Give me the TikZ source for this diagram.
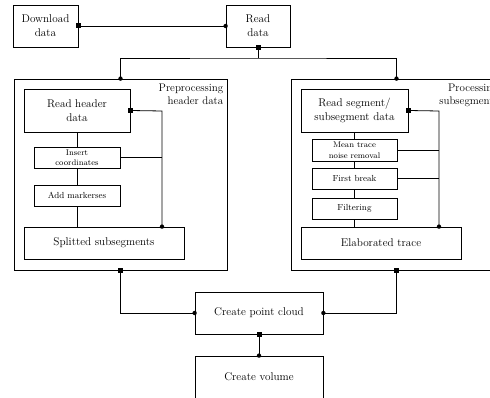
\documentclass[tikz,border=0pt]{standalone}
\usetikzlibrary{positioning}
\begin{document}
\begin{tikzpicture}[x=1pt,y=-1pt,
  every node/.style={inner sep=0pt},
  box/.style={draw,line width=0.8pt,rectangle,align=center,font=\fontsize{11.2}{14}\selectfont},
  smallbox/.style={draw,line width=0.8pt,rectangle,align=center,font=\fontsize{8.8}{11}\selectfont},
  tinybox/.style={draw,line width=0.8pt,rectangle,align=center,font=\fontsize{8.2}{10.5}\selectfont},
  group/.style={draw,line width=0.8pt,rectangle},
  grouplabel/.style={align=right,anchor=north east,font=\fontsize{11}{13}\selectfont},
  conn/.style={line width=0.8pt},
  sq/.style={fill=black,minimum size=5pt,inner sep=0pt,rectangle},
  dot/.style={fill=black,circle,minimum size=4.4pt,inner sep=0pt}
]
\clip (0,0) rectangle (490,398);
\fill[white] (0,0) rectangle (490,398);

% top
\node[box,minimum width=65pt,minimum height=42pt] (dl) at (45.5,26) {Download\\data};
\node[box,minimum width=64pt,minimum height=42pt] (rd) at (258,26) {Read\\data};

% groups
\node[group,minimum width=213pt,minimum height=191pt] (prep) at (120.5,174.5) {};
\node[grouplabel] (preplab) at (223.5,83.5) {Preprocessing\\header data};
\node[group,minimum width=211pt,minimum height=191pt] (proc) at (396.5,174.5) {};
\node[grouplabel] (proclab) at (498,83.5) {Processing\\subsegments};

% left group
\node[box,minimum width=106pt,minimum height=43pt] (rh) at (77,110.5) {Read header\\data};
\node[tinybox,minimum width=86pt,minimum height=21pt] (ic) at (77,157.5) {Insert\\coordinates};
\node[smallbox,minimum width=86pt,minimum height=21pt] (am) at (77,195.5) {Add markerses};
\node[box,minimum width=160pt,minimum height=32pt] (ss) at (104,243) {Splitted subsegments};

% right group
\node[box,minimum width=107pt,minimum height=43pt] (rs) at (354.5,110.5) {Read segment/\\subsegment data};
\node[tinybox,minimum width=85pt,minimum height=22pt] (mt) at (354.5,150) {Mean trace\\noise removal};
\node[smallbox,minimum width=85pt,minimum height=21pt] (fb) at (354.5,178.5) {First break};
\node[smallbox,minimum width=85pt,minimum height=21pt] (fi) at (354.5,208.5) {Filtering};
\node[box,minimum width=160pt,minimum height=32pt] (et) at (381,243) {Elaborated trace};

% bottom
\node[box,minimum width=128pt,minimum height=42pt] (pc) at (259,313) {Create point cloud};
\node[box,minimum width=128pt,minimum height=42pt] (cv) at (259,377) {Create volume};

% junction coordinates
\coordinate (j1) at (258,58);
\coordinate (b1) at (162,111);
\coordinate (b2) at (439,111);

% connectors
\draw[conn] (dl.east) -- (rd.west);
\draw[conn] (rd.south) -- (j1);
\draw[conn] (prep.north) |- (j1) -| (proc.north);

\draw[conn] (rh.east) -- (b1) -- (b1 |- ss.north);
\draw[conn] (ic.east) -- (ic.east -| b1);
\draw[conn] (rh.south) -- (ic.north);
\draw[conn] (ic.south) -- (am.north);
\draw[conn] (am.south) -- (am.south |- ss.north);

\draw[conn] (rs.east) -- (b2) -- (b2 |- et.north);
\draw[conn] (mt.east) -- (mt.east -| b2);
\draw[conn] (fb.east) -- (fb.east -| b2);
\draw[conn] (rs.south) -- (mt.north);
\draw[conn] (mt.south) -- (fb.north);
\draw[conn] (fb.south) -- (fi.north);
\draw[conn] (fi.south) -- (fi.south |- et.north);

\draw[conn] (prep.south) |- (pc.west);
\draw[conn] (proc.south) |- (pc.east);
\draw[conn] (pc.south) -- (cv.north);

% markers
\node[sq] (m1) at (dl.east) {};
\node[dot] (m2) at (rd.west) {};
\node[sq] (m3) at (rd.south) {};
\node[dot] (m4) at (prep.north) {};
\node[dot] (m5) at (proc.north) {};
\node[sq] (m6) at (rh.east) {};
\node[dot] (m7) at (b1 |- ss.north) {};
\node[sq] (m8) at (rs.east) {};
\node[dot] (m9) at (b2 |- et.north) {};
\node[sq] (m10) at (prep.south) {};
\node[sq] (m11) at (proc.south) {};
\node[dot] (m12) at (pc.west) {};
\node[dot] (m13) at (pc.east) {};
\node[sq] (m14) at (pc.south) {};
\node[dot] (m15) at (cv.north) {};
\end{tikzpicture}
\end{document}
